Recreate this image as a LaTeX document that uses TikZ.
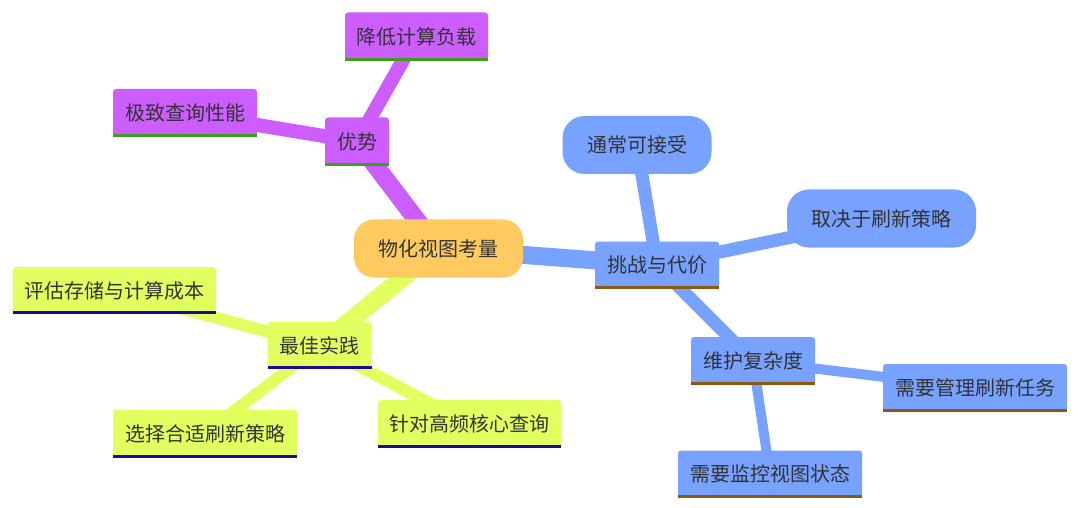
\documentclass[tikz,border=0pt]{standalone}
\usepackage{fontspec}
\setmainfont{Noto Sans CJK SC}
\usetikzlibrary{backgrounds}
\definecolor{cpurple}{HTML}{CC5EFF}
\definecolor{cblue}{HTML}{78A2FF}
\definecolor{cyellow}{HTML}{E2FF60}
\definecolor{corange}{HTML}{FFCA5F}
\definecolor{ugreen}{HTML}{3C9E1C}
\definecolor{ublue}{HTML}{1A0896}
\definecolor{ubrown}{HTML}{8A5A0A}
\definecolor{ctext}{HTML}{333333}
\tikzset{
  base/.style={inner sep=0pt, text=ctext, font=\fontsize{20}{24}\selectfont, anchor=center},
  rbox/.style={base, rounded corners=3pt},
  pill/.style={base, rounded corners=22pt},
  purp/.style={rbox, fill=cpurple},
  yell/.style={rbox, fill=cyellow},
  blu/.style={rbox, fill=cblue},
  blupill/.style={pill, fill=cblue},
  rootbox/.style={pill, fill=corange, rounded corners=20pt},
  conn/.style={line width=#1},
}
\newcommand{\ul}[2]{\draw[#2, line width=3pt] ([yshift=1.5pt]#1.south west) -- ([yshift=1.5pt]#1.south east);}
\begin{document}
\begin{tikzpicture}[x=1pt,y=-1pt]
\begin{scope}[on background layer]
\fill[white] (0,0) rectangle (1080,508);
\end{scope}
\useasboundingbox (0,0) rectangle (1080,508);
% nodes
\node[rootbox, minimum width=169pt, minimum height=58pt] (root) at (438.5,248.5) {物化视图考量};
\node[purp, minimum width=64pt, minimum height=48pt] (adv) at (357,141.5) {优势};
\node[purp, minimum width=143pt, minimum height=48pt] (adv1) at (416.5,36.5) {降低计算负载};
\node[purp, minimum width=144pt, minimum height=48pt] (adv2) at (185,113) {极致查询性能};
\node[blu, minimum width=124pt, minimum height=47pt] (ch) at (657,265) {挑战与代价};
\node[blupill, minimum width=149pt, minimum height=58pt] (ch1) at (637,145) {通常可接受};
\node[blupill, minimum width=189pt, minimum height=58pt] (ch2) at (881.5,218.5) {取决于刷新策略};
\node[blu, minimum width=124pt, minimum height=48pt] (ch3) at (753,361) {维护复杂度};
\node[blu, minimum width=184pt, minimum height=48pt] (ch31) at (975,388) {\makebox[159pt]{需\hfill 要\hfill 管\hfill 理\hfill 刷\hfill 新\hfill 任\hfill 务}};
\node[blu, minimum width=184pt, minimum height=47pt] (ch32) at (770,474) {\makebox[159pt]{需\hfill 要\hfill 监\hfill 控\hfill 视\hfill 图\hfill 状\hfill 态}};
\node[yell, minimum width=104pt, minimum height=47pt] (bp) at (319.7,345.5) {最佳实践};
\node[yell, minimum width=203pt, minimum height=47pt] (bp1) at (114.3,290.5) {\makebox[179pt]{评\hfill 估\hfill 存\hfill 储\hfill 与\hfill 计\hfill 算\hfill 成\hfill 本}};
\node[yell, minimum width=184pt, minimum height=48pt] (bp2) at (205,433.5) {\makebox[159pt]{选\hfill 择\hfill 合\hfill 适\hfill 刷\hfill 新\hfill 策\hfill 略}};
\node[yell, minimum width=183pt, minimum height=48pt] (bp3) at (469.5,424) {\makebox[159pt]{针\hfill 对\hfill 高\hfill 频\hfill 核\hfill 心\hfill 查\hfill 询}};
% underlines
\ul{adv}{ugreen} \ul{adv1}{ugreen} \ul{adv2}{ugreen}
\ul{bp}{ublue} \ul{bp1}{ublue} \ul{bp2}{ublue} \ul{bp3}{ublue}
\ul{ch}{ubrown} \ul{ch3}{ubrown} \ul{ch31}{ubrown} \ul{ch32}{ubrown}
% edges (behind)
\begin{scope}[on background layer]
\draw[cpurple, conn=18pt] (root.center) -- (adv.center);
\draw[cpurple, conn=14pt] (adv.center) -- (adv1.center);
\draw[cpurple, conn=14pt] (adv.center) -- (adv2.center);
\draw[cblue, conn=18pt] (root.center) -- (ch.center);
\draw[cblue, conn=13pt] (ch.center) -- (ch1.center);
\draw[cblue, conn=13pt] (ch.center) -- (ch2.center);
\draw[cblue, conn=13pt] (ch.center) -- (ch3.center);
\draw[cblue, conn=10pt] (ch3.center) -- (ch31.center);
\draw[cblue, conn=10pt] (ch3.center) -- (ch32.center);
\draw[cyellow, conn=18pt] (root.center) -- (bp.center);
\draw[cyellow, conn=12pt] (bp.center) -- (bp1.center);
\draw[cyellow, conn=12pt] (bp.center) -- (bp2.center);
\draw[cyellow, conn=12pt] (bp.center) -- (bp3.center);
\end{scope}
\end{tikzpicture}
\end{document}
